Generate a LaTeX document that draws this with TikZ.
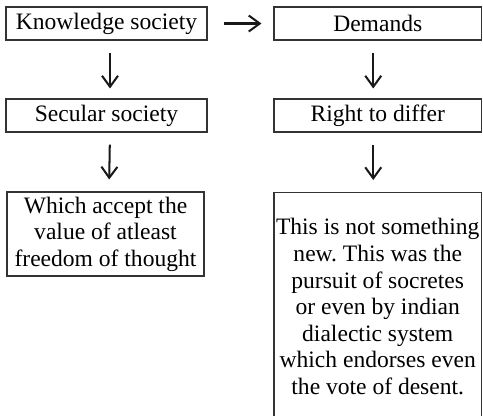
\documentclass[tikz,border=0pt]{standalone}
\usepackage{fontspec}
\setmainfont{Liberation Serif}
\frenchspacing
\usetikzlibrary{arrows.meta, positioning}

\begin{document}
\begin{tikzpicture}[
    box/.style={draw=black!80, line width=0.6pt, text=black, align=center,
      inner sep=0pt, font=\fontsize{13.4pt}{15.1pt}\selectfont},
    flow/.style={draw=black!90, line width=1.15pt, -{Straight Barb[length=2.2mm, width=3.2mm, line width=1.15pt]}}
  ]
  \useasboundingbox (0,0) rectangle (9.66,-8.30);
  % top row
  \node[box, minimum width=4.02cm, minimum height=0.66cm] (know) at (2.13,-0.47) {Knowledge society};
  \node[box, minimum width=4.15cm, minimum height=0.66cm] (demands) at (7.555,-0.47) {Demands};
  % second row
  \node[box, minimum width=4.02cm, minimum height=0.66cm] (secular) at (2.13,-2.31) {Secular society};
  \node[box, minimum width=4.15cm, minimum height=0.66cm] (differ) at (7.555,-2.31) {Right to differ};
  % third row
  \node[box, minimum width=3.94cm, minimum height=1.68cm] (which) at (2.11,-4.68)
    {Which accept the\\value of atleast\\freedom of thought};
  \node[box, minimum width=4.15cm, minimum height=4.56cm, anchor=north] (pursuit) at (7.555,-3.84)
    {This is not something\\new. This was the\\pursuit of socretes\\or even by indian\\dialectic system\\which endorses even\\the vote of desent.};

  \draw[flow, shorten <=0.32cm, shorten >=0.24cm] (know.east) -- (demands.west);
  \draw[flow, shorten <=0.24cm, shorten >=0.2cm] ([xshift=0.07cm]know.south) -- ([xshift=0.07cm]secular.north);
  \draw[flow, shorten <=0.24cm, shorten >=0.2cm] ([xshift=-0.09cm]demands.south) -- ([xshift=-0.09cm]differ.north);
  \draw[flow, shorten <=0.24cm, shorten >=0.24cm] ([xshift=0.07cm]secular.south) -- ([xshift=0.07cm]which.north);
  \draw[flow, shorten <=0.24cm, shorten >=0.24cm] ([xshift=-0.09cm]differ.south) -- ([xshift=-0.09cm]pursuit.north);
\end{tikzpicture}
\end{document}
